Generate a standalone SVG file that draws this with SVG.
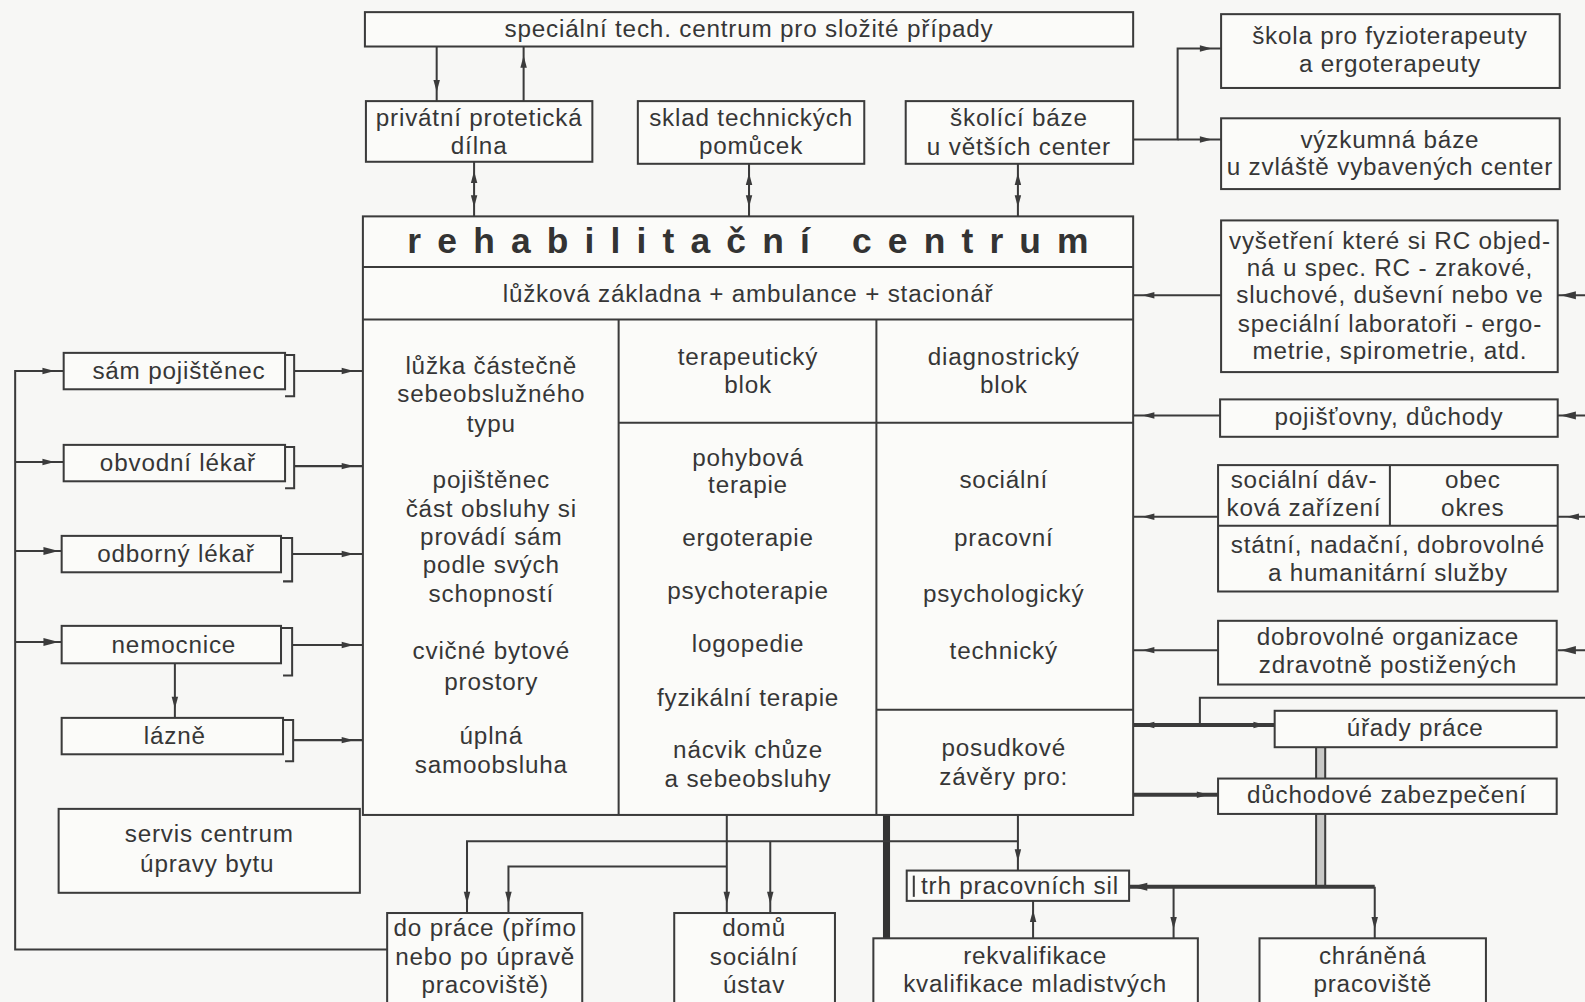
<svg xmlns="http://www.w3.org/2000/svg" width="1585" height="1002" viewBox="0 0 1585 1002">
<defs>
<style>
.bx{fill:#fbfbf9;stroke:#3b3b3b;stroke-width:2}
.ln{fill:none;stroke:#3b3b3b;stroke-width:2}
.tk{fill:none;stroke:#3b3b3b;stroke-width:4}
.tt{fill:none;stroke:#333;stroke-width:7}
.t{font-family:"Liberation Sans",Arial,sans-serif;font-size:24px;letter-spacing:0.8px;fill:#363636;text-anchor:middle}
.ti{font-family:"Liberation Sans",Arial,sans-serif;font-size:35px;font-weight:bold;fill:#333;letter-spacing:16px}
</style>
<marker id="a" viewBox="0 0 30 10" refX="25" refY="5" markerWidth="30" markerHeight="10" markerUnits="userSpaceOnUse" orient="auto-start-reverse"><path d="M4 1.8 L16 5 L4 8.2 z" fill="#3b3b3b"/></marker>
<marker id="b" viewBox="0 0 30 10" refX="20" refY="5" markerWidth="30" markerHeight="10" markerUnits="userSpaceOnUse" orient="auto-start-reverse"><path d="M2 1 L17 5 L2 9 z" fill="#3b3b3b"/></marker>
</defs>
<rect x="0" y="0" width="1585" height="1002" fill="#f7f7f5"/>
<g transform="scale(1.01084 1.0111)">

<g id="connectors">
<path class="ln" d="M432 46 V100" marker-end="url(#a)"/>
<path class="ln" d="M518 100 V46" marker-end="url(#a)"/>
<path class="ln" d="M469 160 V214" marker-start="url(#a)" marker-end="url(#a)"/>
<path class="ln" d="M741 162 V214" marker-start="url(#a)" marker-end="url(#a)"/>
<path class="ln" d="M1007 162 V214" marker-start="url(#a)" marker-end="url(#a)"/>
<path class="ln" d="M1121 138 H1165 V48 H1208" marker-end="url(#a)"/>
<path class="ln" d="M1165 138 H1208" marker-end="url(#a)"/>
<path class="ln" d="M1208 292 H1121" marker-end="url(#a)"/>
<path class="ln" d="M1207 411 H1121" marker-end="url(#a)"/>
<path class="ln" d="M1205 511 H1121" marker-end="url(#a)"/>
<path class="ln" d="M1205 643 H1121" marker-end="url(#a)"/>
<path class="ln" d="M1572 292 H1541" marker-end="url(#b)"/>
<path class="ln" d="M1572 411 H1541" marker-end="url(#b)"/>
<path class="ln" d="M1572 511 H1541" marker-end="url(#a)"/>
<path class="ln" d="M1572 643 H1541" marker-end="url(#b)"/>
<path class="tk" d="M1121 717 H1261" marker-start="url(#a)" marker-end="url(#a)"/>
<path class="ln" d="M1187 717 V690 H1572"/>
<path class="tk" d="M1121 786 H1205" marker-end="url(#a)"/>
<rect x="1302" y="739" width="9" height="31" fill="#c8c8c6"/>
<path class="ln" d="M1302 739 V770 M1311 739 V770"/>
<rect x="1302" y="805" width="9" height="72" fill="#c8c8c6"/>
<path class="ln" d="M1302 805 V877 M1311 805 V877"/>
<path class="tk" d="M1360 877 H1117" marker-end="url(#b)"/>
<path class="ln" d="M1360 877 V928" marker-end="url(#a)"/>
<path class="ln" d="M1161 877 V928" marker-end="url(#a)"/>
<path class="tt" d="M877 806 V928"/>
<path class="ln" d="M1007 806 V861" marker-end="url(#a)"/>
<path class="ln" d="M1007 832 H462 V903" marker-end="url(#a)"/>
<path class="ln" d="M762 832 V903" marker-end="url(#a)"/>
<path class="ln" d="M719 806 V903" marker-end="url(#a)"/>
<path class="ln" d="M719 857 H503 V903" marker-end="url(#a)"/>
<path class="ln" d="M1022 928 V891" marker-end="url(#a)"/>
<path class="ln" d="M383 939 H15 V367 H63" marker-end="url(#a)"/>
<path class="ln" d="M15 457 H63" marker-end="url(#a)"/>
<path class="ln" d="M15 545 H61" marker-end="url(#b)"/>
<path class="ln" d="M15 635 H61" marker-end="url(#b)"/>
<path class="ln" d="M291 367 H359" marker-end="url(#a)"/>
<path class="ln" d="M291 461 H359" marker-end="url(#a)"/>
<path class="ln" d="M289 548 H359" marker-end="url(#a)"/>
<path class="ln" d="M289 638 H359" marker-end="url(#a)"/>
<path class="ln" d="M290 732 H359" marker-end="url(#a)"/>
<path class="ln" d="M173 656 V710" marker-end="url(#a)"/>
</g>

<g id="n-specialni">
<rect class="bx" x="361" y="12" width="760" height="34"/>
<text class="t" x="741" y="37">speciální tech. centrum pro složité případy</text>
</g>
<g id="n-privatni">
<rect class="bx" x="362" y="100" width="224" height="60"/>
<text class="t" x="474" y="125">privátní protetická</text>
<text class="t" x="474" y="152">dílna</text>
</g>
<g id="n-sklad">
<rect class="bx" x="631" y="100" width="224" height="62"/>
<text class="t" x="743" y="125">sklad technických</text>
<text class="t" x="743" y="152">pomůcek</text>
</g>
<g id="n-skolici">
<rect class="bx" x="896" y="100" width="225" height="62"/>
<text class="t" x="1008" y="125">školící báze</text>
<text class="t" x="1008" y="153">u větších center</text>
</g>
<g id="n-skola">
<rect class="bx" x="1208" y="14" width="335" height="73"/>
<text class="t" x="1375" y="44">škola pro fyzioterapeuty</text>
<text class="t" x="1375" y="71">a ergoterapeuty</text>
</g>
<g id="n-vyzkum">
<rect class="bx" x="1208" y="117" width="335" height="70"/>
<text class="t" x="1375" y="146">výzkumná báze</text>
<text class="t" x="1375" y="173">u zvláště vybavených center</text>
</g>
<g id="n-vysetreni">
<rect class="bx" x="1208" y="218" width="333" height="150"/>
<text class="t" x="1375" y="246">vyšetření které si RC objed-</text>
<text class="t" x="1375" y="273">ná u spec. RC - zrakové,</text>
<text class="t" x="1375" y="300">sluchové, duševní nebo ve</text>
<text class="t" x="1375" y="328">speciální laboratoři - ergo-</text>
<text class="t" x="1375" y="355">metrie, spirometrie, atd.</text>
</g>
<g id="n-pojistovny">
<rect class="bx" x="1207" y="395" width="334" height="37"/>
<text class="t" x="1374" y="420">pojišťovny, důchody</text>
</g>
<g id="n-socialni">
<rect class="bx" x="1205" y="460" width="336" height="125"/>
<path class="ln" d="M1205 520 H1541 M1375 460 V520"/>
<text class="t" x="1290" y="483">sociální dáv-</text>
<text class="t" x="1290" y="510">ková zařízení</text>
<text class="t" x="1457" y="483">obec</text>
<text class="t" x="1457" y="510">okres</text>
<text class="t" x="1373" y="547">státní, nadační, dobrovolné</text>
<text class="t" x="1373" y="575">a humanitární služby</text>
</g>
<g id="n-dobrovolne">
<rect class="bx" x="1205" y="614" width="335" height="63"/>
<text class="t" x="1373" y="638">dobrovolné organizace</text>
<text class="t" x="1373" y="666">zdravotně postižených</text>
</g>
<g id="n-urady">
<rect class="bx" x="1261" y="703" width="279" height="36"/>
<text class="t" x="1400" y="728">úřady práce</text>
</g>
<g id="n-duchodove">
<rect class="bx" x="1205" y="770" width="335" height="35"/>
<text class="t" x="1372" y="794">důchodové zabezpečení</text>
</g>
<g id="n-chranena">
<rect class="bx" x="1246" y="928" width="224" height="70"/>
<text class="t" x="1358" y="953">chráněná</text>
<text class="t" x="1358" y="981">pracoviště</text>
</g>
<g id="n-rekvalifikace">
<rect class="bx" x="864" y="928" width="321" height="70"/>
<text class="t" x="1024" y="953">rekvalifikace</text>
<text class="t" x="1024" y="981">kvalifikace mladistvých</text>
</g>
<g id="n-trh">
<rect class="bx" x="897" y="861" width="220" height="30"/>
<path class="ln" d="M904 866 V887"/>
<text class="t" x="1009" y="884">trh pracovních sil</text>
</g>
<g id="n-doprace">
<rect class="bx" x="383" y="903" width="193" height="95"/>
<text class="t" x="480" y="926">do práce (přímo</text>
<text class="t" x="480" y="954">nebo po úpravě</text>
<text class="t" x="480" y="982">pracoviště)</text>
</g>
<g id="n-domu">
<rect class="bx" x="667" y="903" width="159" height="95"/>
<text class="t" x="746" y="926">domů</text>
<text class="t" x="746" y="954">sociální</text>
<text class="t" x="746" y="982">ústav</text>
</g>
<g id="n-servis">
<rect class="bx" x="58" y="800" width="298" height="83"/>
<text class="t" x="207" y="833">servis centrum</text>
<text class="t" x="205" y="862">úpravy bytu</text>
</g>

<g id="n-sam">
<rect class="bx" x="63" y="349" width="219" height="36"/>
<path class="ln" d="M282 351 H291 V392 H282"/>
<text class="t" x="177" y="375">sám pojištěnec</text>
</g>
<g id="n-obvodni">
<rect class="bx" x="63" y="440" width="219" height="36"/>
<path class="ln" d="M282 442 H291 V483 H282"/>
<text class="t" x="176" y="466">obvodní lékař</text>
</g>
<g id="n-odborny">
<rect class="bx" x="61" y="530" width="217" height="36"/>
<path class="ln" d="M278 532 H289 V575 H280"/>
<text class="t" x="174" y="556">odborný lékař</text>
</g>
<g id="n-nemocnice">
<rect class="bx" x="61" y="619" width="217" height="37"/>
<path class="ln" d="M278 621 H289 V668 H280"/>
<text class="t" x="172" y="646">nemocnice</text>
</g>
<g id="n-lazne">
<rect class="bx" x="61" y="710" width="219" height="36"/>
<path class="ln" d="M280 712 H290 V753 H282"/>
<text class="t" x="173" y="736">lázně</text>
</g>

<g id="n-rc">
<rect class="bx" x="359" y="214" width="762" height="592"/>
<path class="ln" d="M359 264 H1121 M359 316 H1121 M612 316 V806 M867 316 V806 M612 418 H1121 M867 702 H1121"/>
<text class="ti" x="403" y="250">rehabilitační centrum</text>
<text class="t" x="740" y="299">lůžková základna + ambulance + stacionář</text>
<text class="t" x="486" y="370">lůžka částečně</text>
<text class="t" x="486" y="398">sebeobslužného</text>
<text class="t" x="486" y="427">typu</text>
<text class="t" x="486" y="483">pojištěnec</text>
<text class="t" x="486" y="511">část obsluhy si</text>
<text class="t" x="486" y="539">provádí sám</text>
<text class="t" x="486" y="567">podle svých</text>
<text class="t" x="486" y="595">schopností</text>
<text class="t" x="486" y="652">cvičné bytové</text>
<text class="t" x="486" y="682">prostory</text>
<text class="t" x="486" y="736">úplná</text>
<text class="t" x="486" y="765">samoobsluha</text>
<text class="t" x="740" y="361">terapeutický</text>
<text class="t" x="740" y="389">blok</text>
<text class="t" x="740" y="461">pohybová</text>
<text class="t" x="740" y="488">terapie</text>
<text class="t" x="740" y="540">ergoterapie</text>
<text class="t" x="740" y="592">psychoterapie</text>
<text class="t" x="740" y="645">logopedie</text>
<text class="t" x="740" y="698">fyzikální terapie</text>
<text class="t" x="740" y="750">nácvik chůze</text>
<text class="t" x="740" y="778">a sebeobsluhy</text>
<text class="t" x="993" y="361">diagnostrický</text>
<text class="t" x="993" y="389">blok</text>
<text class="t" x="993" y="483">sociální</text>
<text class="t" x="993" y="540">pracovní</text>
<text class="t" x="993" y="595">psychologický</text>
<text class="t" x="993" y="652">technický</text>
<text class="t" x="993" y="748">posudkové</text>
<text class="t" x="993" y="776">závěry pro:</text>
</g>
</g>
</svg>
